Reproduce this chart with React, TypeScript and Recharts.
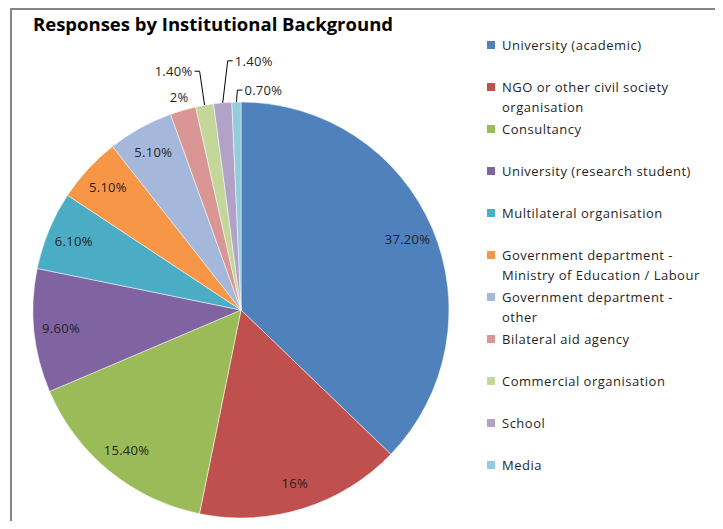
import { Cell, Legend, Pie, PieChart } from "recharts";

const categories = [
  "University (academic)",
  "NGO or other civil society organisation",
  "Consultancy",
  "University (research student)",
  "Multilateral organisation",
  "Government department - Ministry of Education / Labour",
  "Government department - other",
  "Bilateral aid agency",
  "Commercial organisation",
  "School",
  "Media",
];

const shares = [37.2, 16, 15.4, 9.6, 6.1, 5.1, 5.1, 2, 1.4, 1.4, 0.7];

const shareLabels = [
  "37.20%",
  "16%",
  "15.40%",
  "9.60%",
  "6.10%",
  "5.10%",
  "5.10%",
  "2%",
  "1.40%",
  "1.40%",
  "0.70%",
];

const colors = [
  "#4f81bd",
  "#c0504d",
  "#9bbb59",
  "#8064a2",
  "#4bacc6",
  "#f79646",
  "#a5b8db",
  "#da9694",
  "#c4d79b",
  "#b2a2c7",
  "#93cddd",
];

const data = categories.map((name, i) => ({ name, value: shares[i] }));

// leader-line placement for the thin slices at the top (index -> elbow offset from rim)
const leaders: Record<number, { lean: number; rise: number; side: "left" | "right" }> = {
  8: { lean: -5, rise: 34, side: "left" },
  9: { lean: 5, rise: 42, side: "right" },
  10: { lean: 1, rise: 12, side: "right" },
};

const RADIAN = Math.PI / 180;
const FONT = "'Open Sans', 'Noto Sans', sans-serif";

function SliceLabel(props: any) {
  const { cx, cy, midAngle, outerRadius, index } = props;
  const cos = Math.cos(-midAngle * RADIAN);
  const sin = Math.sin(-midAngle * RADIAN);
  const text = shareLabels[index];
  const common = {
    fontFamily: FONT,
    fontSize: 13,
    letterSpacing: 0.3,
    fill: "#1f1f1f",
  };

  if (shares[index] >= 5) {
    const r = outerRadius * 0.87;
    return (
      <text
        x={cx + r * cos}
        y={cy + r * sin}
        textAnchor="middle"
        dominantBaseline="central"
        {...common}
      >
        {text}
      </text>
    );
  }

  const leader = leaders[index];
  if (!leader) {
    const r = outerRadius + 14;
    return (
      <text
        x={cx + r * cos}
        y={cy + r * sin}
        textAnchor="middle"
        dominantBaseline="central"
        {...common}
      >
        {text}
      </text>
    );
  }

  const sx = cx + outerRadius * cos;
  const sy = cy + outerRadius * sin;
  const ex = sx + leader.lean;
  const ey = sy - leader.rise;
  const dir = leader.side === "left" ? -1 : 1;
  const hx = ex + dir * 5;
  return (
    <g>
      <polyline
        points={`${sx},${sy} ${ex},${ey} ${hx},${ey}`}
        fill="none"
        stroke="#000"
        strokeWidth={1}
      />
      <text
        x={hx + dir * 2}
        y={ey}
        textAnchor={leader.side === "left" ? "end" : "start"}
        dominantBaseline="central"
        {...common}
      >
        {text}
      </text>
    </g>
  );
}

function LegendList() {
  return (
    <div
      style={{
        fontFamily: FONT,
        fontSize: 13,
        letterSpacing: 0.5,
        color: "#1f1f1f",
      }}
    >
      {categories.map((name, i) => (
        <div
          key={name}
          style={{
            display: "flex",
            alignItems: "flex-start",
            height: 42,
            lineHeight: "20px",
          }}
        >
          <div
            style={{
              width: 8,
              height: 8,
              background: colors[i],
              marginTop: 6,
              marginRight: 7,
              flexShrink: 0,
            }}
          />
          <div style={{ width: 205 }}>{name}</div>
        </div>
      ))}
    </div>
  );
}

export default function App() {
  return (
    <div
      style={{
        position: "relative",
        width: 723,
        height: 529,
        margin: -8,
        overflow: "hidden",
        background: "#fff",
      }}
    >
      <div
        style={{
          position: "absolute",
          left: 10,
          top: 8,
          width: 710,
          height: 560,
          border: "2px solid #858585",
          boxSizing: "border-box",
        }}
      />
      <div
        style={{
          position: "absolute",
          left: 33,
          top: 11,
          fontFamily: FONT,
          fontWeight: 700,
          fontSize: 18.5,
          color: "#000",
          whiteSpace: "nowrap",
        }}
      >
        Responses by Institutional Background
      </div>
      <div style={{ position: "absolute", left: 0, top: 0 }}>
        <PieChart width={723} height={529}>
          <Pie
            data={data}
            dataKey="value"
            nameKey="name"
            cx={236}
            cy={305}
            outerRadius={208}
            startAngle={90}
            endAngle={-270}
            stroke="#ffffff"
            strokeWidth={0.5}
            label={SliceLabel}
            labelLine={false}
            isAnimationActive={false}
          >
            {data.map((d, i) => (
              <Cell key={d.name} fill={colors[i]} />
            ))}
          </Pie>
          <Legend
            layout="vertical"
            verticalAlign="top"
            align="right"
            content={() => <LegendList />}
            wrapperStyle={{ left: 487, top: 35, width: 225, right: "auto" }}
          />
        </PieChart>
      </div>
    </div>
  );
}
